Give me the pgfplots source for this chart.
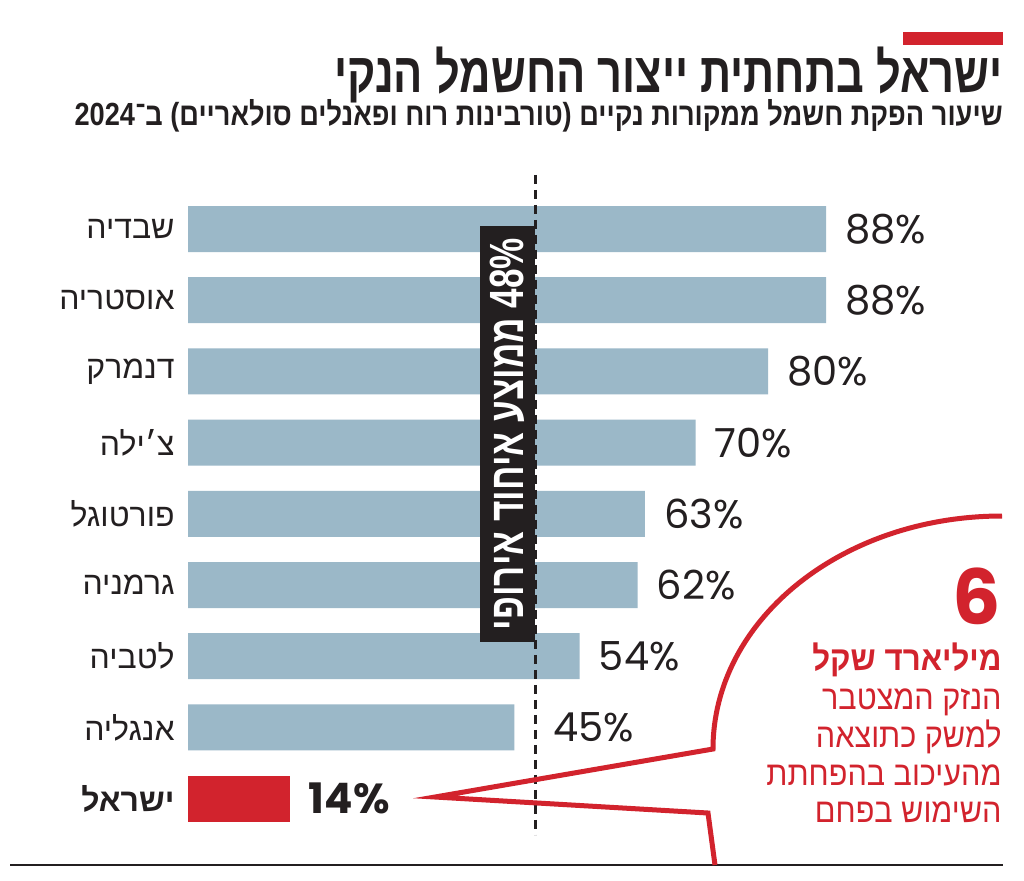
\documentclass[border=0pt]{standalone}
\usepackage{graphicx}
\usepackage{pgfplots}
\pgfplotsset{compat=1.18}
\usepackage{fontspec}
\setmainfont{Liberation Sans}
\newfontfamily\heb[Script=Hebrew]{Liberation Sans}
\newfontfamily\num{Poppins}
\TeXXeTstate=1
\definecolor{barblue}{RGB}{155,184,200}
\definecolor{cred}{RGB}{210,35,45}
\definecolor{ink}{RGB}{35,31,32}
\newcommand{\hb}[1]{{\heb\beginR #1\endR}}
\begin{document}
\begin{tikzpicture}
\path[use as bounding box] (0pt,0pt) rectangle (512pt,-440pt);
\fill[white] (0pt,0pt) rectangle (512pt,-440pt);
\begin{scope}[x=0.5pt,y=-0.5pt]
\fill[cred] (903,32) rectangle (1003,45);
\node[anchor=base east, inner sep=0pt, text=ink, font={\fontsize{28}{30}\selectfont\heb\bfseries}] at (1003,92) {\resizebox{334pt}{\height}{\beginR ישראל בתחתית ייצור החשמל הנקי\endR}};
\node[anchor=base east, inner sep=0pt, text=ink, font={\fontsize{16}{18}\selectfont\heb\bfseries}] at (1003,125) {\resizebox{464pt}{\height}{\beginR שיעור הפקת חשמל ממקורות נקיים (טורבינות רוח ופאנלים סולאריים) ב־2024\endR}};
\end{scope}
\begin{axis}[at={(275.25pt,-256.9pt)}, anchor=center, scale only axis,
  width=362.5pt, height=320.4pt, xmin=0, xmax=100, ymin=-0.5, ymax=8.5,
  y dir=reverse, axis line style={draw=none}, major tick length=0pt,
  xtick=\empty, ytick={0,...,8}, clip=false,
  yticklabels={\hb{שבדיה}, \hb{אוסטריה}, \hb{דנמרק}, \hb{צ׳ילה}, \hb{פורטוגל}, \hb{גרמניה}, \hb{לטביה}, \hb{אנגליה}, {\bfseries\hb{ישראל}}},
  yticklabel style={font=\fontsize{16}{18}\selectfont, text=ink, inner sep=0pt, xshift=-6.5pt},
  xbar, bar width=23pt, point meta=explicit symbolic, nodes near coords,
  nodes near coords style={anchor=west, inner sep=0pt, xshift=9.5pt, text=ink}]
\addplot[fill=barblue, draw=none, bar shift=0pt,
  nodes near coords style={font={\fontsize{20}{22}\selectfont\num}}]
  coordinates {(88,0)[88\%] (88,1)[88\%] (80,2)[80\%] (70,3)[70\%] (63,4)[63\%] (62,5)[62\%] (54,6)[54\%] (45,7)[\hspace{10pt}45\%]};
\addplot[fill=cred, draw=none, bar shift=0pt,
  nodes near coords style={font={\fontsize{21}{22}\selectfont\num\bfseries}}]
  coordinates {(14,8)[14\%]};
\fill[ink] (40.3,-0.04) rectangle (47.9,5.8);
\draw[ink, line width=1.5pt, dash pattern=on 4.5pt off 3pt] (47.9,-0.76) -- (47.9,8.51);
\node[rotate=90, text=white, inner sep=0pt, font={\fontsize{24}{26}\selectfont\heb\bfseries}] at (44.1,2.88) {\resizebox{196pt}{\height}{\beginR 48\% ממוצע איחוד אירופי\endR}};
\end{axis}
\begin{scope}[x=0.5pt,y=-0.5pt]
\draw[ink, line width=1.1pt] (10,865) -- (1003,865);
\draw[cred, line width=2.5pt, line join=miter] (715,865) -- (708,813) -- (435,797) -- (713,749) .. controls (713,620) and (842,516) .. (1002,516);
\node[anchor=base east, inner sep=0pt, text=cred, font={\fontsize{38}{40}\selectfont\num\bfseries}] at (1001,624) {6};
\node[anchor=base east, inner sep=0pt, text=cred, font={\fontsize{17}{18}\selectfont\heb\bfseries}] at (1002,670) {\scalebox{0.92}[1]{\beginR מיליארד שקל\endR}};
\node[anchor=base east, inner sep=0pt, text=cred, font={\fontsize{17}{18}\selectfont\heb}] at (1002,709) {\scalebox{0.9}[1]{\beginR הנזק המצטבר\endR}};
\node[anchor=base east, inner sep=0pt, text=cred, font={\fontsize{17}{18}\selectfont\heb}] at (1002,747) {\scalebox{0.9}[1]{\beginR למשק כתוצאה\endR}};
\node[anchor=base east, inner sep=0pt, text=cred, font={\fontsize{17}{18}\selectfont\heb}] at (1002,785) {\scalebox{0.9}[1]{\beginR מהעיכוב בהפחתת\endR}};
\node[anchor=base east, inner sep=0pt, text=cred, font={\fontsize{17}{18}\selectfont\heb}] at (1002,822) {\scalebox{0.9}[1]{\beginR השימוש בפחם\endR}};
\end{scope}
\end{tikzpicture}
\end{document}
